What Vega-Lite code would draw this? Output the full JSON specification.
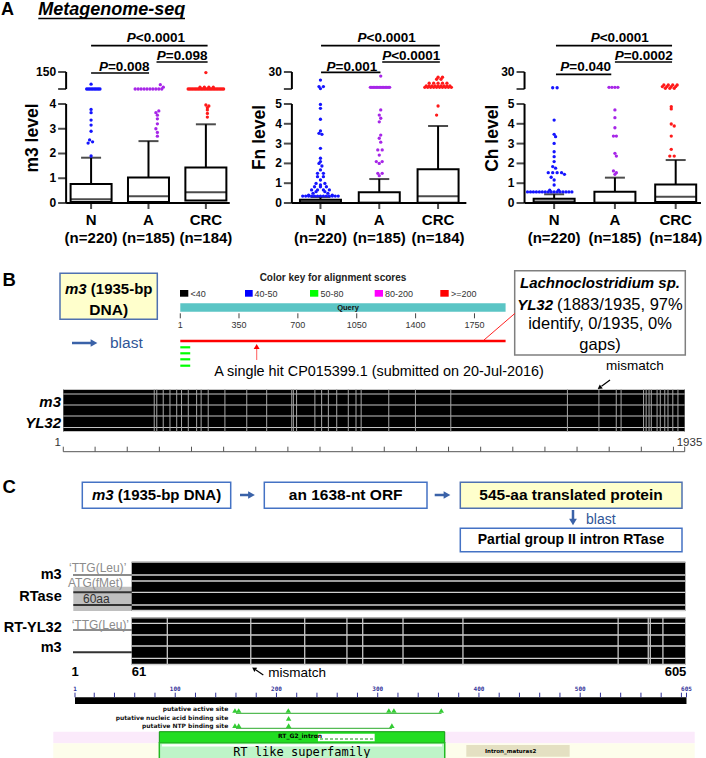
{
"$schema":"https://vega.github.io/schema/vega-lite/v6.json",
"padding":0,
"width":706,
"height":758,
"config":{"view":{"stroke":null},"font":"Liberation Sans","text":{"font":"Liberation Sans"}},
"resolve":{"scale":{"x":"independent","y":"independent","color":"independent"}},
"layer":[
  {"encoding":{"x":{"field":"x","type":"quantitative","scale":{"domain":[0,706],"nice":false,"zero":false},"axis":null},
               "y":{"field":"y","type":"quantitative","scale":{"domain":[0,758],"reverse":true,"nice":false,"zero":false},"axis":null}},
   "layer":[
    {"data":{"name":"t_A"},"mark":{"type":"text","align":"left","baseline":"middle","fontSize":18,"fontWeight":"bold","color":"black"},"encoding":{"text":{"field":"t"}}},
    {"data":{"name":"t_meta"},"mark":{"type":"text","align":"left","baseline":"middle","fontSize":18,"fontWeight":"bold","fontStyle":"italic","color":"black"},"encoding":{"text":{"field":"t"}}},
    {"data":{"name":"t_ul"},"mark":{"type":"rule","strokeWidth":1.5,"color":"black"},"encoding":{"x2":{"field":"x2"}}},
    {"data":{"name":"c_pink"},"mark":{"type":"rect","fill":"#FBEAFB"},"encoding":{"x2":{"field":"x2"},"y2":{"field":"y2"}}},
    {"data":{"name":"c_cream"},"mark":{"type":"rect","fill":"#FDFDEB"},"encoding":{"x2":{"field":"x2"},"y2":{"field":"y2"}}},
    {"data":{"name":"c_ybox"},"mark":{"type":"rect","fill":"#FFFFCC","stroke":"#4F71B0","strokeWidth":1.5},"encoding":{"x2":{"field":"x2"},"y2":{"field":"y2"}}},
    {"data":{"name":"c_wbox"},"mark":{"type":"rect","fill":"white","stroke":"#4472C4","strokeWidth":1.5},"encoding":{"x2":{"field":"x2"},"y2":{"field":"y2"}}},
    {"data":{"name":"c_gbox"},"mark":{"type":"rect","fill":"white","stroke":"#7F7F7F","strokeWidth":1.5},"encoding":{"x2":{"field":"x2"},"y2":{"field":"y2"}}},
    {"data":{"name":"c_grect"},"mark":{"type":"rect","fill":"#BFBFBF"},"encoding":{"x2":{"field":"x2"},"y2":{"field":"y2"}}},
    {"data":{"name":"c_gl"},"mark":{"type":"rule","strokeWidth":2,"color":"#8C8C8C"},"encoding":{"x2":{"field":"x2"}}},
    {"data":{"name":"c_dl"},"mark":{"type":"rule","strokeWidth":2,"color":"#333333"},"encoding":{"x2":{"field":"x2"}}},
    {"data":{"name":"c_panel"},"mark":{"type":"text","align":"left","baseline":"middle","fontSize":18.5,"fontWeight":"bold","color":"black"},"encoding":{"text":{"field":"t"}}},
    {"data":{"name":"c_b15c"},"mark":{"type":"text","align":"center","baseline":"middle","fontSize":15.5,"fontWeight":"bold","color":"black"},"encoding":{"text":{"field":"t"}}},
    {"data":{"name":"c_b14c"},"mark":{"type":"text","align":"center","baseline":"middle","fontSize":14,"fontWeight":"bold","color":"black"},"encoding":{"text":{"field":"t"}}},
    {"data":{"name":"c_bi15l"},"mark":{"type":"text","align":"left","baseline":"middle","fontSize":15,"fontWeight":"bold","fontStyle":"italic","color":"black"},"encoding":{"text":{"field":"t"}}},
    {"data":{"name":"c_b15l"},"mark":{"type":"text","align":"left","baseline":"middle","fontSize":15,"fontWeight":"bold","color":"black"},"encoding":{"text":{"field":"t"}}},
    {"data":{"name":"c_blast1"},"mark":{"type":"text","align":"left","baseline":"middle","fontSize":15.5,"color":"#2F5597"},"encoding":{"text":{"field":"t"}}},
    {"data":{"name":"c_blast2"},"mark":{"type":"text","align":"left","baseline":"middle","fontSize":14,"color":"#2F5597"},"encoding":{"text":{"field":"t"}}},
    {"data":{"name":"c_arr"},"mark":{"type":"rule","strokeWidth":2.5,"color":"#3A62A8"},"encoding":{"x2":{"field":"x2"},"y2":{"field":"y2"}}},
    {"data":{"name":"c_arrR"},"mark":{"type":"point","shape":"triangle-right","filled":true,"size":60,"color":"#3A62A8","opacity":1},"encoding":{}},
    {"data":{"name":"c_arrD"},"mark":{"type":"point","shape":"triangle-down","filled":true,"size":60,"color":"#3A62A8","opacity":1},"encoding":{}},
    {"data":{"name":"c_keyt"},"mark":{"type":"text","align":"center","baseline":"middle","fontSize":10,"fontWeight":"bold","color":"#222222"},"encoding":{"text":{"field":"t"}}},
    {"data":{"name":"c_leg"},"mark":{"type":"rect"},"encoding":{"x2":{"field":"x2"},"y2":{"field":"y2"},"color":{"field":"k","type":"nominal","scale":{"domain":["<40","40-50","50-80","80-200",">=200"],"range":["#000000","#0000FF","#00FF00","#FF00FF","#FF0000"]},"legend":null}}},
    {"data":{"name":"c_legt"},"mark":{"type":"text","align":"left","baseline":"middle","fontSize":9,"color":"#333333"},"encoding":{"text":{"field":"t"}}},
    {"data":{"name":"c_hit"},"mark":{"type":"text","align":"center","baseline":"middle","fontSize":14.4,"color":"black"},"encoding":{"text":{"field":"t"}}},
    {"data":{"name":"c_redl"},"mark":{"type":"rule","strokeWidth":1,"color":"#FF2222"},"encoding":{"x2":{"field":"x2"},"y2":{"field":"y2"}}},
    {"data":{"name":"c_bi15c"},"mark":{"type":"text","align":"center","baseline":"middle","fontSize":15,"fontWeight":"bold","fontStyle":"italic","color":"black"},"encoding":{"text":{"field":"t"}}},
    {"data":{"name":"c_bi15r"},"mark":{"type":"text","align":"right","baseline":"middle","fontSize":15,"fontWeight":"bold","fontStyle":"italic","color":"black"},"encoding":{"text":{"field":"t"}}},
    {"data":{"name":"c_n16l"},"mark":{"type":"text","align":"left","baseline":"middle","fontSize":16.5,"color":"black"},"encoding":{"text":{"field":"t"}}},
    {"data":{"name":"c_n16c"},"mark":{"type":"text","align":"center","baseline":"middle","fontSize":16.5,"color":"black"},"encoding":{"text":{"field":"t"}}},
    {"data":{"name":"c_mm"},"mark":{"type":"text","align":"left","baseline":"middle","fontSize":13.5,"color":"black"},"encoding":{"text":{"field":"t"}}},
    {"data":{"name":"c_mml"},"mark":{"type":"rule","strokeWidth":1.2,"color":"black"},"encoding":{"x2":{"field":"x2"},"y2":{"field":"y2"}}},
    {"data":{"name":"c_mmh1"},"mark":{"type":"point","shape":"triangle-up","filled":true,"size":25,"angle":234,"color":"black","opacity":1},"encoding":{}},
    {"data":{"name":"c_mmh2"},"mark":{"type":"point","shape":"triangle-up","filled":true,"size":25,"angle":304,"color":"black","opacity":1},"encoding":{}},
    {"data":{"name":"c_rul"},"mark":{"type":"text","align":"center","baseline":"middle","fontSize":11.5,"color":"#333333"},"encoding":{"text":{"field":"t"}}},
    {"data":{"name":"c_b145r"},"mark":{"type":"text","align":"right","baseline":"middle","fontSize":14.5,"fontWeight":"bold","color":"black"},"encoding":{"text":{"field":"t"}}},
    {"data":{"name":"c_g12l"},"mark":{"type":"text","align":"left","baseline":"middle","fontSize":12,"color":"#8C8C8C"},"encoding":{"text":{"field":"t"}}},
    {"data":{"name":"c_60"},"mark":{"type":"text","align":"left","baseline":"middle","fontSize":12,"color":"#333333"},"encoding":{"text":{"field":"t"}}},
    {"data":{"name":"c_num"},"mark":{"type":"text","align":"center","baseline":"middle","fontSize":13,"fontWeight":"bold","color":"black"},"encoding":{"text":{"field":"t"}}},
    {"data":{"name":"c_site"},"mark":{"type":"text","align":"right","baseline":"middle","fontSize":6,"fontWeight":"bold","font":"DejaVu Sans","color":"#111111"},"encoding":{"text":{"field":"t"}}}
   ]},
  {"encoding":{"x":{"field":"x","type":"quantitative","scale":{"domain":[-1070.9,3126.5],"nice":false,"zero":false},"axis":null},
               "y":{"field":"y","type":"quantitative","scale":{"domain":[0,758],"reverse":true,"nice":false,"zero":false},"axis":null}},
   "layer":[
    {"data":{"name":"b_teal"},"mark":{"type":"rect","fill":"#5BC5C5"},"encoding":{"x2":{"field":"x2"},"y2":{"field":"y2"}}},
    {"data":{"name":"b_query"},"mark":{"type":"text","align":"center","baseline":"middle","fontSize":7.5,"fontWeight":"bold","color":"#111111"},"encoding":{"text":{"field":"t"}}},
    {"data":{"name":"b_tick"},"mark":{"type":"rule","strokeWidth":1,"color":"#444444"},"encoding":{"y2":{"field":"y2"}}},
    {"data":{"name":"b_tlab"},"mark":{"type":"text","align":"center","baseline":"middle","fontSize":9,"color":"#333333"},"encoding":{"text":{"field":"t"}}},
    {"data":{"name":"b_red"},"mark":{"type":"rule","strokeWidth":2.5,"color":"#FF0000"},"encoding":{"x2":{"field":"x2"}}},
    {"data":{"name":"b_green"},"mark":{"type":"rule","strokeWidth":2.2,"color":"#00FF00"},"encoding":{"x2":{"field":"x2"}}},
    {"data":{"name":"b_arr"},"mark":{"type":"rule","strokeWidth":1.2,"color":"#FF7777"},"encoding":{"y2":{"field":"y2"}}},
    {"data":{"name":"b_arrh"},"mark":{"type":"point","shape":"triangle-up","filled":true,"size":35,"color":"#FF0000","opacity":1},"encoding":{}}
   ]},
  {"encoding":{"x":{"field":"x","type":"quantitative","scale":{"domain":[-196.0,2001.3],"nice":false,"zero":false},"axis":null},
               "y":{"field":"y","type":"quantitative","scale":{"domain":[0,758],"reverse":true,"nice":false,"zero":false},"axis":null}},
   "layer":[
    {"data":{"name":"a_blk"},"mark":{"type":"rect","fill":"black"},"encoding":{"x2":{"field":"x2"},"y2":{"field":"y2"}}},
    {"data":{"name":"a_h"},"mark":{"type":"rule","strokeWidth":1.2,"color":"#C4C4C4"},"encoding":{"x2":{"field":"x2"}}},
    {"data":{"name":"a_v"},"mark":{"type":"rule","strokeWidth":1,"color":"#A8A8A8"},"encoding":{"y2":{"field":"y2"}}},
    {"data":{"name":"a_rule"},"mark":{"type":"rule","strokeWidth":1,"color":"#555555"},"encoding":{"x2":{"field":"x2"}}},
    {"data":{"name":"a_ticks"},"mark":{"type":"rule","strokeWidth":1,"color":"#555555"},"encoding":{"y2":{"field":"y2"}}}
   ]},
  {"encoding":{"x":{"field":"x","type":"quantitative","scale":{"domain":[-68.42,625.34],"nice":false,"zero":false},"axis":null},
               "y":{"field":"y","type":"quantitative","scale":{"domain":[0,758],"reverse":true,"nice":false,"zero":false},"axis":null}},
   "layer":[
    {"data":{"name":"r_blk"},"mark":{"type":"rect","fill":"black"},"encoding":{"x2":{"field":"x2"},"y2":{"field":"y2"}}},
    {"data":{"name":"r_h"},"mark":{"type":"rule","strokeWidth":1.3,"color":"#D0D0D0"},"encoding":{"x2":{"field":"x2"}}},
    {"data":{"name":"r_v"},"mark":{"type":"rule","strokeWidth":1.3,"color":"#C8C8C8"},"encoding":{"y2":{"field":"y2"}}}
   ]},
  {"encoding":{"x":{"field":"x","type":"quantitative","scale":{"domain":[-73.08,624.27],"nice":false,"zero":false},"axis":null},
               "y":{"field":"y","type":"quantitative","scale":{"domain":[0,758],"reverse":true,"nice":false,"zero":false},"axis":null}},
   "layer":[
    {"data":{"name":"d_bar"},"mark":{"type":"rect","fill":"black"},"encoding":{"x2":{"field":"x2"},"y2":{"field":"y2"}}},
    {"data":{"name":"d_tick"},"mark":{"type":"rule","strokeWidth":1,"color":"#333399"},"encoding":{"y2":{"field":"y2"}}},
    {"data":{"name":"d_lab"},"mark":{"type":"text","align":"center","baseline":"middle","fontSize":6,"fontWeight":"bold","font":"DejaVu Sans Mono","color":"#333399"},"encoding":{"text":{"field":"t"}}},
    {"data":{"name":"d_line"},"mark":{"type":"rule","strokeWidth":1.2,"color":"#55BB55"},"encoding":{"x2":{"field":"x2"}}},
    {"data":{"name":"d_tri"},"mark":{"type":"point","shape":"triangle-up","filled":true,"size":30,"color":"#33CC33","opacity":1},"encoding":{}},
    {"data":{"name":"d_g2"},"mark":{"type":"rect","fill":"#22DD22","stroke":"#119911","strokeWidth":1},"encoding":{"x2":{"field":"x2"},"y2":{"field":"y2"}}},
    {"data":{"name":"d_g2w"},"mark":{"type":"rect","fill":"white"},"encoding":{"x2":{"field":"x2"},"y2":{"field":"y2"}}},
    {"data":{"name":"d_g2d"},"mark":{"type":"rule","strokeWidth":1,"color":"#119911","strokeDash":[3,2]},"encoding":{"x2":{"field":"x2"}}},
    {"data":{"name":"d_g2t"},"mark":{"type":"text","align":"center","baseline":"middle","fontSize":6,"fontWeight":"bold","font":"DejaVu Sans","color":"black"},"encoding":{"text":{"field":"t"}}},
    {"data":{"name":"d_rt"},"mark":{"type":"rect","fill":"#BEF5C8","stroke":"#22BB22","strokeWidth":1.5},"encoding":{"x2":{"field":"x2"},"y2":{"field":"y2"}}},
    {"data":{"name":"d_rtw"},"mark":{"type":"rect","fill":"white"},"encoding":{"x2":{"field":"x2"},"y2":{"field":"y2"}}},
    {"data":{"name":"d_rtt"},"mark":{"type":"text","align":"center","baseline":"middle","fontSize":12,"font":"DejaVu Sans Mono","color":"black"},"encoding":{"text":{"field":"t"}}},
    {"data":{"name":"d_im"},"mark":{"type":"rect","fill":"#E4E0C2"},"encoding":{"x2":{"field":"x2"},"y2":{"field":"y2"}}},
    {"data":{"name":"d_imt"},"mark":{"type":"text","align":"left","baseline":"middle","fontSize":5.5,"fontWeight":"bold","font":"DejaVu Sans","color":"black"},"encoding":{"text":{"field":"t"}}}
   ]},
  {"layer":[
    {"data":{"name":"box1"},"mark":{"type":"rule","strokeWidth":2,"color":"black"},
     "encoding":{"x":{"field":"p","type":"quantitative","scale":{"domain":[-0.4999,11.6265],"nice":false,"zero":false},"axis":null},
                 "y":{"field":"q3","type":"quantitative","scale":{"domain":[-22.4242,8.202],"nice":false,"zero":false},"axis":null},"y2":{"field":"hi"}}},
    {"data":{"name":"box1"},"mark":{"type":"tick","orient":"horizontal","size":20,"thickness":2,"color":"black"},
     "encoding":{"x":{"field":"p","type":"quantitative","scale":{"domain":[-0.4999,11.6265],"nice":false,"zero":false},"axis":null},
                 "y":{"field":"hi","type":"quantitative","scale":{"domain":[-22.4242,8.202],"nice":false,"zero":false},"axis":null}}},
    {"data":{"name":"box1"},"mark":{"type":"bar","orient":"vertical","width":41,"fill":"white","stroke":"black","strokeWidth":2},
     "encoding":{"x":{"field":"p","type":"quantitative","scale":{"domain":[-0.4999,11.6265],"nice":false,"zero":false},"axis":null},
                 "y":{"field":"q1","type":"quantitative","scale":{"domain":[-22.4242,8.202],"nice":false,"zero":false},"axis":null},"y2":{"field":"q3"}}},
    {"data":{"name":"box1"},"mark":{"type":"tick","orient":"horizontal","size":41,"thickness":2,"color":"black"},
     "encoding":{"x":{"field":"p","type":"quantitative","scale":{"domain":[-0.4999,11.6265],"nice":false,"zero":false},"axis":null},
                 "y":{"field":"med","type":"quantitative","scale":{"domain":[-22.4242,8.202],"nice":false,"zero":false},"axis":null}}},
    {"data":{"name":"dots1"},"mark":{"type":"point","filled":true,"size":11,"opacity":1},
     "encoding":{"x":{"field":"x","type":"quantitative","scale":{"domain":[-0.4999,11.6265],"nice":false,"zero":false},"axis":null},
                 "y":{"field":"v","type":"quantitative","scale":{"domain":[-22.4242,8.202],"nice":false,"zero":false},"axis":null},
                 "color":{"field":"g","type":"nominal","scale":{"domain":["N","A","CRC"],"range":["#1515FF","#A726E8","#FF1A1A"]},"legend":null}}},
    {"data":{"name":"ax1"},"mark":{"type":"rule","strokeWidth":2,"color":"black"},
     "encoding":{"x":{"datum":0.565,"type":"quantitative","scale":{"domain":[-0.4999,11.6265],"nice":false,"zero":false},"axis":null},
                 "y":{"field":"a","type":"quantitative","scale":{"domain":[-22.4242,8.202],"nice":false,"zero":false},"axis":null},"y2":{"field":"b"}}},
    {"data":{"name":"xax1"},"mark":{"type":"rule","strokeWidth":2,"color":"black"},
     "encoding":{"x":{"field":"a","type":"quantitative","scale":{"domain":[-0.4999,11.6265],"nice":false,"zero":false},"axis":null},"x2":{"field":"b"},
                 "y":{"datum":0,"type":"quantitative","scale":{"domain":[-22.4242,8.202],"nice":false,"zero":false},"axis":null}}},
    {"data":{"name":"yt1"},"mark":{"type":"tick","orient":"horizontal","size":8,"thickness":2,"color":"black","xOffset":-4},
     "encoding":{"x":{"datum":0.565,"type":"quantitative","scale":{"domain":[-0.4999,11.6265],"nice":false,"zero":false},"axis":null},
                 "y":{"field":"v","type":"quantitative","scale":{"domain":[-22.4242,8.202],"nice":false,"zero":false},"axis":null}}},
    {"data":{"name":"yt1"},"mark":{"type":"text","align":"right","baseline":"middle","fontSize":12,"fontWeight":"bold","color":"black","dx":-10},
     "encoding":{"x":{"datum":0.565,"type":"quantitative","scale":{"domain":[-0.4999,11.6265],"nice":false,"zero":false},"axis":null},
                 "y":{"field":"v","type":"quantitative","scale":{"domain":[-22.4242,8.202],"nice":false,"zero":false},"axis":null},"text":{"field":"t"}}},
    {"data":{"name":"ttl1"},"mark":{"type":"text","align":"center","baseline":"middle","fontSize":17.5,"fontWeight":"bold","color":"black","angle":270},
     "encoding":{"x":{"field":"x","type":"quantitative","scale":{"domain":[-0.4999,11.6265],"nice":false,"zero":false},"axis":null},
                 "y":{"field":"v","type":"quantitative","scale":{"domain":[-22.4242,8.202],"nice":false,"zero":false},"axis":null},"text":{"field":"t"}}},
    {"data":{"name":"xl"},"mark":{"type":"tick","orient":"vertical","size":6,"thickness":2,"color":"black","yOffset":3},
     "encoding":{"x":{"field":"p","type":"quantitative","scale":{"domain":[-0.4999,11.6265],"nice":false,"zero":false},"axis":null},
                 "y":{"datum":0,"type":"quantitative","scale":{"domain":[-22.4242,8.202],"nice":false,"zero":false},"axis":null}}},
    {"data":{"name":"xl"},"mark":{"type":"text","align":"center","baseline":"top","fontSize":15,"fontWeight":"bold","color":"black","lineBreak":"\n","lineHeight":18,"dy":10},
     "encoding":{"x":{"field":"p","type":"quantitative","scale":{"domain":[-0.4999,11.6265],"nice":false,"zero":false},"axis":null},
                 "y":{"datum":0,"type":"quantitative","scale":{"domain":[-22.4242,8.202],"nice":false,"zero":false},"axis":null},"text":{"field":"t"}}},
    {"data":{"name":"br1"},"mark":{"type":"rule","strokeWidth":1.7,"color":"black"},
     "encoding":{"x":{"field":"xa","type":"quantitative","scale":{"domain":[-0.4999,11.6265],"nice":false,"zero":false},"axis":null},"x2":{"field":"xb"},
                 "y":{"field":"y","type":"quantitative","scale":{"domain":[-22.4242,8.202],"nice":false,"zero":false},"axis":null}}},
    {"data":{"name":"br1"},"mark":{"type":"text","align":"right","baseline":"middle","fontSize":13.5,"fontWeight":"bold","fontStyle":"italic","color":"black"},
     "encoding":{"x":{"field":"xs","type":"quantitative","scale":{"domain":[-0.4999,11.6265],"nice":false,"zero":false},"axis":null},
                 "y":{"field":"ty","type":"quantitative","scale":{"domain":[-22.4242,8.202],"nice":false,"zero":false},"axis":null},"text":{"value":"P"}}},
    {"data":{"name":"br1"},"mark":{"type":"text","align":"left","baseline":"middle","fontSize":13.5,"fontWeight":"bold","color":"black"},
     "encoding":{"x":{"field":"xs","type":"quantitative","scale":{"domain":[-0.4999,11.6265],"nice":false,"zero":false},"axis":null},
                 "y":{"field":"ty","type":"quantitative","scale":{"domain":[-22.4242,8.202],"nice":false,"zero":false},"axis":null},"text":{"field":"rest"}}}
  ]},
  {"layer":[
    {"data":{"name":"box2"},"mark":{"type":"rule","strokeWidth":2,"color":"black"},
     "encoding":{"x":{"field":"p","type":"quantitative","scale":{"domain":[-4.3645,7.4712],"nice":false,"zero":false},"axis":null},
                 "y":{"field":"q3","type":"quantitative","scale":{"domain":[-28.0303,10.2525],"nice":false,"zero":false},"axis":null},"y2":{"field":"hi"}}},
    {"data":{"name":"box2"},"mark":{"type":"tick","orient":"horizontal","size":20,"thickness":2,"color":"black"},
     "encoding":{"x":{"field":"p","type":"quantitative","scale":{"domain":[-4.3645,7.4712],"nice":false,"zero":false},"axis":null},
                 "y":{"field":"hi","type":"quantitative","scale":{"domain":[-28.0303,10.2525],"nice":false,"zero":false},"axis":null}}},
    {"data":{"name":"box2"},"mark":{"type":"bar","orient":"vertical","width":41,"fill":"white","stroke":"black","strokeWidth":2},
     "encoding":{"x":{"field":"p","type":"quantitative","scale":{"domain":[-4.3645,7.4712],"nice":false,"zero":false},"axis":null},
                 "y":{"field":"q1","type":"quantitative","scale":{"domain":[-28.0303,10.2525],"nice":false,"zero":false},"axis":null},"y2":{"field":"q3"}}},
    {"data":{"name":"box2"},"mark":{"type":"tick","orient":"horizontal","size":41,"thickness":2,"color":"black"},
     "encoding":{"x":{"field":"p","type":"quantitative","scale":{"domain":[-4.3645,7.4712],"nice":false,"zero":false},"axis":null},
                 "y":{"field":"med","type":"quantitative","scale":{"domain":[-28.0303,10.2525],"nice":false,"zero":false},"axis":null}}},
    {"data":{"name":"dots2"},"mark":{"type":"point","filled":true,"size":11,"opacity":1},
     "encoding":{"x":{"field":"x","type":"quantitative","scale":{"domain":[-4.3645,7.4712],"nice":false,"zero":false},"axis":null},
                 "y":{"field":"v","type":"quantitative","scale":{"domain":[-28.0303,10.2525],"nice":false,"zero":false},"axis":null},
                 "color":{"field":"g","type":"nominal","scale":{"domain":["N","A","CRC"],"range":["#1515FF","#A726E8","#FF1A1A"]},"legend":null}}},
    {"data":{"name":"ax2"},"mark":{"type":"rule","strokeWidth":2,"color":"black"},
     "encoding":{"x":{"datum":0.514,"type":"quantitative","scale":{"domain":[-4.3645,7.4712],"nice":false,"zero":false},"axis":null},
                 "y":{"field":"a","type":"quantitative","scale":{"domain":[-28.0303,10.2525],"nice":false,"zero":false},"axis":null},"y2":{"field":"b"}}},
    {"data":{"name":"xax2"},"mark":{"type":"rule","strokeWidth":2,"color":"black"},
     "encoding":{"x":{"field":"a","type":"quantitative","scale":{"domain":[-4.3645,7.4712],"nice":false,"zero":false},"axis":null},"x2":{"field":"b"},
                 "y":{"datum":0,"type":"quantitative","scale":{"domain":[-28.0303,10.2525],"nice":false,"zero":false},"axis":null}}},
    {"data":{"name":"yt2"},"mark":{"type":"tick","orient":"horizontal","size":8,"thickness":2,"color":"black","xOffset":-4},
     "encoding":{"x":{"datum":0.514,"type":"quantitative","scale":{"domain":[-4.3645,7.4712],"nice":false,"zero":false},"axis":null},
                 "y":{"field":"v","type":"quantitative","scale":{"domain":[-28.0303,10.2525],"nice":false,"zero":false},"axis":null}}},
    {"data":{"name":"yt2"},"mark":{"type":"text","align":"right","baseline":"middle","fontSize":12,"fontWeight":"bold","color":"black","dx":-10},
     "encoding":{"x":{"datum":0.514,"type":"quantitative","scale":{"domain":[-4.3645,7.4712],"nice":false,"zero":false},"axis":null},
                 "y":{"field":"v","type":"quantitative","scale":{"domain":[-28.0303,10.2525],"nice":false,"zero":false},"axis":null},"text":{"field":"t"}}},
    {"data":{"name":"ttl2"},"mark":{"type":"text","align":"center","baseline":"middle","fontSize":17.5,"fontWeight":"bold","color":"black","angle":270},
     "encoding":{"x":{"field":"x","type":"quantitative","scale":{"domain":[-4.3645,7.4712],"nice":false,"zero":false},"axis":null},
                 "y":{"field":"v","type":"quantitative","scale":{"domain":[-28.0303,10.2525],"nice":false,"zero":false},"axis":null},"text":{"field":"t"}}},
    {"data":{"name":"xl"},"mark":{"type":"tick","orient":"vertical","size":6,"thickness":2,"color":"black","yOffset":3},
     "encoding":{"x":{"field":"p","type":"quantitative","scale":{"domain":[-4.3645,7.4712],"nice":false,"zero":false},"axis":null},
                 "y":{"datum":0,"type":"quantitative","scale":{"domain":[-28.0303,10.2525],"nice":false,"zero":false},"axis":null}}},
    {"data":{"name":"xl"},"mark":{"type":"text","align":"center","baseline":"top","fontSize":15,"fontWeight":"bold","color":"black","lineBreak":"\n","lineHeight":18,"dy":10},
     "encoding":{"x":{"field":"p","type":"quantitative","scale":{"domain":[-4.3645,7.4712],"nice":false,"zero":false},"axis":null},
                 "y":{"datum":0,"type":"quantitative","scale":{"domain":[-28.0303,10.2525],"nice":false,"zero":false},"axis":null},"text":{"field":"t"}}},
    {"data":{"name":"br2"},"mark":{"type":"rule","strokeWidth":1.7,"color":"black"},
     "encoding":{"x":{"field":"xa","type":"quantitative","scale":{"domain":[-4.3645,7.4712],"nice":false,"zero":false},"axis":null},"x2":{"field":"xb"},
                 "y":{"field":"y","type":"quantitative","scale":{"domain":[-28.0303,10.2525],"nice":false,"zero":false},"axis":null}}},
    {"data":{"name":"br2"},"mark":{"type":"text","align":"right","baseline":"middle","fontSize":13.5,"fontWeight":"bold","fontStyle":"italic","color":"black"},
     "encoding":{"x":{"field":"xs","type":"quantitative","scale":{"domain":[-4.3645,7.4712],"nice":false,"zero":false},"axis":null},
                 "y":{"field":"ty","type":"quantitative","scale":{"domain":[-28.0303,10.2525],"nice":false,"zero":false},"axis":null},"text":{"value":"P"}}},
    {"data":{"name":"br2"},"mark":{"type":"text","align":"left","baseline":"middle","fontSize":13.5,"fontWeight":"bold","color":"black"},
     "encoding":{"x":{"field":"xs","type":"quantitative","scale":{"domain":[-4.3645,7.4712],"nice":false,"zero":false},"axis":null},
                 "y":{"field":"ty","type":"quantitative","scale":{"domain":[-28.0303,10.2525],"nice":false,"zero":false},"axis":null},"text":{"field":"rest"}}}
  ]},
  {"layer":[
    {"data":{"name":"box3"},"mark":{"type":"rule","strokeWidth":2,"color":"black"},
     "encoding":{"x":{"field":"p","type":"quantitative","scale":{"domain":[-8.0353,3.4164],"nice":false,"zero":false},"axis":null},
                 "y":{"field":"q3","type":"quantitative","scale":{"domain":[-28.0303,10.2525],"nice":false,"zero":false},"axis":null},"y2":{"field":"hi"}}},
    {"data":{"name":"box3"},"mark":{"type":"tick","orient":"horizontal","size":20,"thickness":2,"color":"black"},
     "encoding":{"x":{"field":"p","type":"quantitative","scale":{"domain":[-8.0353,3.4164],"nice":false,"zero":false},"axis":null},
                 "y":{"field":"hi","type":"quantitative","scale":{"domain":[-28.0303,10.2525],"nice":false,"zero":false},"axis":null}}},
    {"data":{"name":"box3"},"mark":{"type":"bar","orient":"vertical","width":41,"fill":"white","stroke":"black","strokeWidth":2},
     "encoding":{"x":{"field":"p","type":"quantitative","scale":{"domain":[-8.0353,3.4164],"nice":false,"zero":false},"axis":null},
                 "y":{"field":"q1","type":"quantitative","scale":{"domain":[-28.0303,10.2525],"nice":false,"zero":false},"axis":null},"y2":{"field":"q3"}}},
    {"data":{"name":"box3"},"mark":{"type":"tick","orient":"horizontal","size":41,"thickness":2,"color":"black"},
     "encoding":{"x":{"field":"p","type":"quantitative","scale":{"domain":[-8.0353,3.4164],"nice":false,"zero":false},"axis":null},
                 "y":{"field":"med","type":"quantitative","scale":{"domain":[-28.0303,10.2525],"nice":false,"zero":false},"axis":null}}},
    {"data":{"name":"dots3"},"mark":{"type":"point","filled":true,"size":11,"opacity":1},
     "encoding":{"x":{"field":"x","type":"quantitative","scale":{"domain":[-8.0353,3.4164],"nice":false,"zero":false},"axis":null},
                 "y":{"field":"v","type":"quantitative","scale":{"domain":[-28.0303,10.2525],"nice":false,"zero":false},"axis":null},
                 "color":{"field":"g","type":"nominal","scale":{"domain":["N","A","CRC"],"range":["#1515FF","#A726E8","#FF1A1A"]},"legend":null}}},
    {"data":{"name":"ax2"},"mark":{"type":"rule","strokeWidth":2,"color":"black"},
     "encoding":{"x":{"datum":0.513,"type":"quantitative","scale":{"domain":[-8.0353,3.4164],"nice":false,"zero":false},"axis":null},
                 "y":{"field":"a","type":"quantitative","scale":{"domain":[-28.0303,10.2525],"nice":false,"zero":false},"axis":null},"y2":{"field":"b"}}},
    {"data":{"name":"xax3"},"mark":{"type":"rule","strokeWidth":2,"color":"black"},
     "encoding":{"x":{"field":"a","type":"quantitative","scale":{"domain":[-8.0353,3.4164],"nice":false,"zero":false},"axis":null},"x2":{"field":"b"},
                 "y":{"datum":0,"type":"quantitative","scale":{"domain":[-28.0303,10.2525],"nice":false,"zero":false},"axis":null}}},
    {"data":{"name":"yt2"},"mark":{"type":"tick","orient":"horizontal","size":8,"thickness":2,"color":"black","xOffset":-4},
     "encoding":{"x":{"datum":0.513,"type":"quantitative","scale":{"domain":[-8.0353,3.4164],"nice":false,"zero":false},"axis":null},
                 "y":{"field":"v","type":"quantitative","scale":{"domain":[-28.0303,10.2525],"nice":false,"zero":false},"axis":null}}},
    {"data":{"name":"yt2"},"mark":{"type":"text","align":"right","baseline":"middle","fontSize":12,"fontWeight":"bold","color":"black","dx":-10},
     "encoding":{"x":{"datum":0.513,"type":"quantitative","scale":{"domain":[-8.0353,3.4164],"nice":false,"zero":false},"axis":null},
                 "y":{"field":"v","type":"quantitative","scale":{"domain":[-28.0303,10.2525],"nice":false,"zero":false},"axis":null},"text":{"field":"t"}}},
    {"data":{"name":"ttl3"},"mark":{"type":"text","align":"center","baseline":"middle","fontSize":17.5,"fontWeight":"bold","color":"black","angle":270},
     "encoding":{"x":{"field":"x","type":"quantitative","scale":{"domain":[-8.0353,3.4164],"nice":false,"zero":false},"axis":null},
                 "y":{"field":"v","type":"quantitative","scale":{"domain":[-28.0303,10.2525],"nice":false,"zero":false},"axis":null},"text":{"field":"t"}}},
    {"data":{"name":"xl"},"mark":{"type":"tick","orient":"vertical","size":6,"thickness":2,"color":"black","yOffset":3},
     "encoding":{"x":{"field":"p","type":"quantitative","scale":{"domain":[-8.0353,3.4164],"nice":false,"zero":false},"axis":null},
                 "y":{"datum":0,"type":"quantitative","scale":{"domain":[-28.0303,10.2525],"nice":false,"zero":false},"axis":null}}},
    {"data":{"name":"xl"},"mark":{"type":"text","align":"center","baseline":"top","fontSize":15,"fontWeight":"bold","color":"black","lineBreak":"\n","lineHeight":18,"dy":10},
     "encoding":{"x":{"field":"p","type":"quantitative","scale":{"domain":[-8.0353,3.4164],"nice":false,"zero":false},"axis":null},
                 "y":{"datum":0,"type":"quantitative","scale":{"domain":[-28.0303,10.2525],"nice":false,"zero":false},"axis":null},"text":{"field":"t"}}},
    {"data":{"name":"br3"},"mark":{"type":"rule","strokeWidth":1.7,"color":"black"},
     "encoding":{"x":{"field":"xa","type":"quantitative","scale":{"domain":[-8.0353,3.4164],"nice":false,"zero":false},"axis":null},"x2":{"field":"xb"},
                 "y":{"field":"y","type":"quantitative","scale":{"domain":[-28.0303,10.2525],"nice":false,"zero":false},"axis":null}}},
    {"data":{"name":"br3"},"mark":{"type":"text","align":"right","baseline":"middle","fontSize":13.5,"fontWeight":"bold","fontStyle":"italic","color":"black"},
     "encoding":{"x":{"field":"xs","type":"quantitative","scale":{"domain":[-8.0353,3.4164],"nice":false,"zero":false},"axis":null},
                 "y":{"field":"ty","type":"quantitative","scale":{"domain":[-28.0303,10.2525],"nice":false,"zero":false},"axis":null},"text":{"value":"P"}}},
    {"data":{"name":"br3"},"mark":{"type":"text","align":"left","baseline":"middle","fontSize":13.5,"fontWeight":"bold","color":"black"},
     "encoding":{"x":{"field":"xs","type":"quantitative","scale":{"domain":[-8.0353,3.4164],"nice":false,"zero":false},"axis":null},
                 "y":{"field":"ty","type":"quantitative","scale":{"domain":[-28.0303,10.2525],"nice":false,"zero":false},"axis":null},"text":{"field":"rest"}}}
  ]}
],
"datasets":{
"t_A":[{"t":"A","x":1,"y":10.3}],
"t_meta":[{"t":"Metagenome-seq","x":38.3,"y":10}],
"t_ul":[{"x":38.3,"x2":185,"y":18.5}],
"box1":[{"p":1,"q1":0.04,"med":0.15,"q3":0.77,"hi":1.83},{"p":2,"q1":0.04,"med":0.27,"q3":1.03,"hi":2.5},{"p":3,"q1":0.1,"med":0.43,"q3":1.43,"hi":3.18}],
"box2":[{"p":1,"q1":0.01,"med":0.06,"q3":0.17,"hi":0.3},{"p":2,"q1":0.0,"med":0.02,"q3":0.54,"hi":1.21},{"p":3,"q1":0.01,"med":0.34,"q3":1.7,"hi":3.89}],
"box3":[{"p":1,"q1":0.02,"med":0.08,"q3":0.22,"hi":0.44},{"p":2,"q1":0.0,"med":0.02,"q3":0.57,"hi":1.28},{"p":3,"q1":0.05,"med":0.32,"q3":0.94,"hi":2.17}],
"ax1":[{"a":0,"b":4},{"a":4.606,"b":5.293}],
"ax2":[{"a":0,"b":5},{"a":5.758,"b":6.616}],
"xax1":[{"a":0.565,"b":3.416}],
"xax2":[{"a":0.514,"b":3.481}],
"xax3":[{"a":0.513,"b":3.416}],
"yt1":[{"v":0,"t":"0"},{"v":1,"t":"1"},{"v":2,"t":"2"},{"v":3,"t":"3"},{"v":4,"t":"4"},{"v":4.606,"t":""},{"v":5.293,"t":"150"}],
"yt2":[{"v":0,"t":"0"},{"v":1,"t":"1"},{"v":2,"t":"2"},{"v":3,"t":"3"},{"v":4,"t":"4"},{"v":5,"t":"5"},{"v":5.758,"t":""},{"v":6.616,"t":"30"}],
"ttl1":[{"t":"m3 level","x":-0.0087,"v":2.626}],
"ttl2":[{"t":"Fn level","x":-0.034,"v":3.308}],
"ttl3":[{"t":"Ch level","x":-0.013,"v":3.268}],
"xl":[{"p":1,"t":"N\n(n=220)"},{"p":2,"t":"A\n(n=185)"},{"p":3,"t":"CRC\n(n=184)"}],
"br1":[{"xa":1.0,"xb":2.01,"y":5.253,"xs":1.293,"ty":5.507,"rest":"=0.008"},{"xa":2.14,"xb":3.03,"y":5.697,"xs":2.303,"ty":5.94,"rest":"=0.098"},{"xa":1.0,"xb":3.03,"y":6.356,"xs":1.78,"ty":6.655,"rest":"<0.0001"}],
"br2":[{"xa":1.01,"xb":2.02,"y":6.6,"xs":1.257,"ty":6.884,"rest":"=0.001"},{"xa":2.05,"xb":3.03,"y":7.12,"xs":2.203,"ty":7.424,"rest":"<0.0001"},{"xa":1.01,"xb":3.03,"y":7.944,"xs":1.783,"ty":8.318,"rest":"<0.0001"}],
"br3":[{"xa":1.03,"xb":1.94,"y":6.5,"xs":1.25,"ty":6.884,"rest":"=0.040"},{"xa":2.0,"xb":2.94,"y":7.12,"xs":2.144,"ty":7.424,"rest":"=0.0002"},{"xa":1.03,"xb":2.94,"y":7.944,"xs":1.749,"ty":8.318,"rest":"<0.0001"}],
"dots1":[
{"g":"N","x":0.923,"v":4.606},{"g":"N","x":0.948,"v":4.606},{"g":"N","x":0.974,"v":4.606},{"g":"N","x":1.0,"v":4.606},{"g":"N","x":1.026,"v":4.606},{"g":"N","x":1.052,"v":4.606},{"g":"N","x":1.077,"v":4.606},{"g":"N","x":1.103,"v":4.606},{"g":"N","x":1.129,"v":4.606},{"g":"N","x":1.155,"v":4.606},
{"g":"N","x":1.0,"v":4.8},
{"g":"N","x":1.0,"v":3.78},{"g":"N","x":1.0,"v":3.65},{"g":"N","x":1.0,"v":3.35},{"g":"N","x":1.0,"v":3.15},{"g":"N","x":1.0,"v":2.9},{"g":"N","x":0.974,"v":2.55},{"g":"N","x":1.026,"v":2.47},{"g":"N","x":0.948,"v":2.42},{"g":"N","x":1.0,"v":1.9},
{"g":"A","x":1.768,"v":4.606},{"g":"A","x":1.82,"v":4.606},{"g":"A","x":1.871,"v":4.606},{"g":"A","x":1.923,"v":4.606},{"g":"A","x":1.974,"v":4.606},{"g":"A","x":2.026,"v":4.606},{"g":"A","x":2.077,"v":4.606},{"g":"A","x":2.129,"v":4.606},{"g":"A","x":2.18,"v":4.606},{"g":"A","x":2.232,"v":4.606},
{"g":"A","x":2.258,"v":4.68},{"g":"A","x":2.206,"v":4.78},
{"g":"A","x":2.18,"v":3.72},{"g":"A","x":2.129,"v":3.65},{"g":"A","x":2.155,"v":3.55},{"g":"A","x":2.155,"v":3.4},{"g":"A","x":2.155,"v":3.2},{"g":"A","x":2.129,"v":3.0},{"g":"A","x":2.155,"v":2.85},{"g":"A","x":2.155,"v":2.7},
{"g":"CRC","x":2.691,"v":4.606},{"g":"CRC","x":2.717,"v":4.606},{"g":"CRC","x":2.742,"v":4.606},{"g":"CRC","x":2.768,"v":4.606},{"g":"CRC","x":2.794,"v":4.606},{"g":"CRC","x":2.82,"v":4.606},{"g":"CRC","x":2.845,"v":4.606},{"g":"CRC","x":2.871,"v":4.606},{"g":"CRC","x":2.897,"v":4.606},{"g":"CRC","x":2.923,"v":4.606},{"g":"CRC","x":2.948,"v":4.606},{"g":"CRC","x":2.974,"v":4.606},{"g":"CRC","x":3.0,"v":4.606},{"g":"CRC","x":3.026,"v":4.606},{"g":"CRC","x":3.052,"v":4.606},{"g":"CRC","x":3.077,"v":4.606},{"g":"CRC","x":3.103,"v":4.606},{"g":"CRC","x":3.129,"v":4.606},{"g":"CRC","x":3.155,"v":4.606},{"g":"CRC","x":3.18,"v":4.606},{"g":"CRC","x":3.206,"v":4.606},{"g":"CRC","x":3.232,"v":4.606},{"g":"CRC","x":3.258,"v":4.606},{"g":"CRC","x":3.283,"v":4.606},{"g":"CRC","x":3.309,"v":4.606},
{"g":"CRC","x":2.897,"v":4.68},{"g":"CRC","x":2.974,"v":4.68},{"g":"CRC","x":3.052,"v":4.68},{"g":"CRC","x":3.129,"v":4.68},{"g":"CRC","x":3.0,"v":5.27},
{"g":"CRC","x":3.0,"v":3.96},{"g":"CRC","x":3.052,"v":3.92},{"g":"CRC","x":3.026,"v":3.85},{"g":"CRC","x":3.026,"v":3.76},{"g":"CRC","x":3.026,"v":3.62},{"g":"CRC","x":3.026,"v":3.47}
],
"dots2":[
{"g":"N","x":1.0,"v":6.21},{"g":"N","x":0.975,"v":5.88},{"g":"N","x":1.05,"v":5.88},{"g":"N","x":1.0,"v":5.78},
{"g":"N","x":1.0,"v":4.98},{"g":"N","x":1.0,"v":4.78},{"g":"N","x":1.0,"v":4.23},{"g":"N","x":1.0,"v":3.64},{"g":"N","x":0.975,"v":3.52},{"g":"N","x":1.025,"v":3.47},{"g":"N","x":1.0,"v":2.76},{"g":"N","x":1.0,"v":2.26},{"g":"N","x":1.0,"v":2.09},{"g":"N","x":0.975,"v":2.0},{"g":"N","x":1.025,"v":1.87},{"g":"N","x":1.0,"v":1.67},{"g":"N","x":0.95,"v":1.5},{"g":"N","x":1.05,"v":1.5},{"g":"N","x":0.95,"v":1.33},{"g":"N","x":1.05,"v":1.33},{"g":"N","x":1.0,"v":1.16},{"g":"N","x":0.925,"v":0.99},{"g":"N","x":1.075,"v":0.99},{"g":"N","x":1.0,"v":0.91},{"g":"N","x":0.899,"v":0.82},{"g":"N","x":1.0,"v":0.82},{"g":"N","x":1.101,"v":0.82},{"g":"N","x":0.849,"v":0.66},{"g":"N","x":0.95,"v":0.66},{"g":"N","x":1.05,"v":0.66},{"g":"N","x":1.151,"v":0.66},{"g":"N","x":0.925,"v":0.57},{"g":"N","x":1.075,"v":0.57},{"g":"N","x":0.874,"v":0.49},{"g":"N","x":1.126,"v":0.49},{"g":"N","x":0.799,"v":0.4},{"g":"N","x":1.201,"v":0.4},
{"g":"N","x":0.698,"v":0.35},{"g":"N","x":0.749,"v":0.35},{"g":"N","x":0.799,"v":0.35},{"g":"N","x":0.849,"v":0.35},{"g":"N","x":0.899,"v":0.35},{"g":"N","x":0.95,"v":0.35},{"g":"N","x":1.0,"v":0.35},{"g":"N","x":1.05,"v":0.35},{"g":"N","x":1.101,"v":0.35},{"g":"N","x":1.151,"v":0.35},{"g":"N","x":1.201,"v":0.35},{"g":"N","x":1.251,"v":0.35},{"g":"N","x":1.302,"v":0.35},
{"g":"A","x":1.849,"v":5.84},{"g":"A","x":1.874,"v":5.84},{"g":"A","x":1.899,"v":5.84},{"g":"A","x":1.925,"v":5.84},{"g":"A","x":1.95,"v":5.84},{"g":"A","x":1.975,"v":5.84},{"g":"A","x":2.0,"v":5.84},{"g":"A","x":2.025,"v":5.84},{"g":"A","x":2.05,"v":5.84},{"g":"A","x":2.075,"v":5.84},{"g":"A","x":2.101,"v":5.84},{"g":"A","x":2.126,"v":5.84},{"g":"A","x":2.151,"v":5.84},{"g":"A","x":2.176,"v":5.84},{"g":"A","x":2.025,"v":6.41},
{"g":"A","x":2.025,"v":4.7},{"g":"A","x":2.0,"v":4.44},{"g":"A","x":2.025,"v":4.28},{"g":"A","x":2.0,"v":4.1},{"g":"A","x":2.025,"v":3.43},{"g":"A","x":2.0,"v":3.27},{"g":"A","x":2.025,"v":3.07},{"g":"A","x":1.975,"v":2.68},{"g":"A","x":2.05,"v":2.68},{"g":"A","x":2.0,"v":2.42},{"g":"A","x":1.95,"v":2.09},{"g":"A","x":2.05,"v":2.09},{"g":"A","x":2.0,"v":2.0},{"g":"A","x":1.975,"v":1.5},{"g":"A","x":2.05,"v":1.5},{"g":"A","x":2.0,"v":1.38},
{"g":"CRC","x":3.0,"v":6.35},{"g":"CRC","x":3.075,"v":6.35},{"g":"CRC","x":2.975,"v":6.25},{"g":"CRC","x":3.05,"v":6.25},{"g":"CRC","x":2.849,"v":6.05},{"g":"CRC","x":2.925,"v":6.05},{"g":"CRC","x":3.0,"v":6.05},{"g":"CRC","x":3.075,"v":6.05},{"g":"CRC","x":3.151,"v":6.05},
{"g":"CRC","x":2.799,"v":5.91},{"g":"CRC","x":2.849,"v":5.91},{"g":"CRC","x":2.899,"v":5.91},{"g":"CRC","x":2.95,"v":5.91},{"g":"CRC","x":3.0,"v":5.91},{"g":"CRC","x":3.05,"v":5.91},{"g":"CRC","x":3.101,"v":5.91},{"g":"CRC","x":3.151,"v":5.91},{"g":"CRC","x":3.201,"v":5.91},
{"g":"CRC","x":2.774,"v":5.84},{"g":"CRC","x":2.824,"v":5.84},{"g":"CRC","x":2.874,"v":5.84},{"g":"CRC","x":2.925,"v":5.84},{"g":"CRC","x":2.975,"v":5.84},{"g":"CRC","x":3.025,"v":5.84},{"g":"CRC","x":3.075,"v":5.84},{"g":"CRC","x":3.126,"v":5.84},{"g":"CRC","x":3.176,"v":5.84},{"g":"CRC","x":3.226,"v":5.84},
{"g":"CRC","x":3.0,"v":4.9},{"g":"CRC","x":2.975,"v":4.44}
],
"dots3":[
{"g":"N","x":0.976,"v":5.82},{"g":"N","x":1.049,"v":5.82},
{"g":"N","x":1.0,"v":4.19},{"g":"N","x":1.0,"v":3.47},{"g":"N","x":1.024,"v":3.35},{"g":"N","x":1.0,"v":3.01},{"g":"N","x":1.0,"v":2.59},{"g":"N","x":1.0,"v":2.34},{"g":"N","x":1.0,"v":2.09},{"g":"N","x":0.976,"v":1.84},{"g":"N","x":1.024,"v":1.76},{"g":"N","x":0.903,"v":1.53},{"g":"N","x":0.976,"v":1.53},{"g":"N","x":1.049,"v":1.53},{"g":"N","x":1.122,"v":1.53},{"g":"N","x":1.17,"v":1.45},{"g":"N","x":0.951,"v":1.3},{"g":"N","x":1.0,"v":1.16},{"g":"N","x":1.0,"v":0.91},{"g":"N","x":0.927,"v":0.65},{"g":"N","x":1.073,"v":0.65},
{"g":"N","x":0.562,"v":0.56},{"g":"N","x":0.611,"v":0.56},{"g":"N","x":0.659,"v":0.56},{"g":"N","x":0.708,"v":0.56},{"g":"N","x":0.757,"v":0.56},{"g":"N","x":0.805,"v":0.56},{"g":"N","x":0.854,"v":0.56},{"g":"N","x":0.903,"v":0.56},{"g":"N","x":0.951,"v":0.56},{"g":"N","x":1.0,"v":0.56},{"g":"N","x":1.049,"v":0.56},{"g":"N","x":1.097,"v":0.56},{"g":"N","x":1.146,"v":0.56},{"g":"N","x":1.195,"v":0.56},{"g":"N","x":1.243,"v":0.56},{"g":"N","x":1.292,"v":0.56},
{"g":"A","x":1.903,"v":5.84},{"g":"A","x":1.951,"v":5.84},{"g":"A","x":2.0,"v":5.84},{"g":"A","x":2.049,"v":5.84},
{"g":"A","x":2.0,"v":4.7},{"g":"A","x":2.0,"v":4.31},{"g":"A","x":2.0,"v":3.8},{"g":"A","x":1.976,"v":3.38},{"g":"A","x":2.024,"v":3.38},{"g":"A","x":2.0,"v":2.51},{"g":"A","x":2.024,"v":2.37},{"g":"A","x":1.976,"v":1.62},{"g":"A","x":2.024,"v":1.53},{"g":"A","x":2.0,"v":1.45},
{"g":"CRC","x":2.805,"v":5.96},{"g":"CRC","x":2.878,"v":5.96},{"g":"CRC","x":2.951,"v":5.96},{"g":"CRC","x":3.024,"v":5.96},{"g":"CRC","x":2.781,"v":5.88},{"g":"CRC","x":2.854,"v":5.88},{"g":"CRC","x":2.927,"v":5.88},{"g":"CRC","x":3.0,"v":5.88},{"g":"CRC","x":2.83,"v":5.79},{"g":"CRC","x":2.903,"v":5.79},{"g":"CRC","x":2.976,"v":5.79},
{"g":"CRC","x":2.927,"v":4.86},{"g":"CRC","x":2.927,"v":4.75},{"g":"CRC","x":2.927,"v":3.99},{"g":"CRC","x":2.976,"v":3.89},{"g":"CRC","x":2.927,"v":3.38},{"g":"CRC","x":2.927,"v":2.71},{"g":"CRC","x":2.903,"v":2.37},{"g":"CRC","x":2.976,"v":2.37}
],
"c_pink":[{"x":53.3,"x2":694.7,"y":731.7,"y2":743.3}],
"c_cream":[{"x":53.3,"x2":694.7,"y":743.3,"y2":758}],
"c_ybox":[{"x":60,"x2":157.3,"y":273.3,"y2":319.3},{"x":460.3,"x2":682,"y":482.3,"y2":508.3}],
"c_wbox":[{"x":82.3,"x2":230.7,"y":482.3,"y2":508.3},{"x":264.3,"x2":427,"y":482.3,"y2":508.3},{"x":460.3,"x2":682,"y":528.3,"y2":551.7}],
"c_gbox":[{"x":514.7,"x2":685.3,"y":270.7,"y2":355}],
"c_grect":[{"x":73.3,"x2":133.3,"y":586.7,"y2":611}],
"c_gl":[{"x":73,"x2":131.7,"y":575},{"x":73,"x2":131.7,"y":630}],
"c_dl":[{"x":73.3,"x2":133.3,"y":592.3},{"x":73.3,"x2":133.3,"y":605},{"x":73,"x2":131.7,"y":652.3}],
"c_panel":[{"t":"B","x":2.5,"y":280},{"t":"C","x":2.5,"y":487}],
"c_b15c":[{"t":"DNA)","x":108.7,"y":310},{"t":"an 1638-nt ORF","x":345.7,"y":495},{"t":"545-aa translated protein","x":571,"y":495}],
"c_b14c":[{"t":"Partial group II intron RTase","x":571,"y":540}],
"c_bi15l":[{"t":"m3","x":65,"y":289.3},{"t":"m3","x":92,"y":495}],
"c_b15l":[{"t":"(1935-bp","x":90.8,"y":289.3},{"t":"(1935-bp DNA)","x":117.8,"y":495}],
"c_blast1":[{"t":"blast","x":110,"y":343}],
"c_blast2":[{"t":"blast","x":586,"y":520}],
"c_arr":[{"x":72,"x2":91,"y":343,"y2":343},{"x":240,"x2":250,"y":495,"y2":495},{"x":434.7,"x2":445,"y":495,"y2":495},{"x":573,"x2":573,"y":510,"y2":520}],
"c_arrR":[{"x":94,"y":343},{"x":251.5,"y":495},{"x":447,"y":495}],
"c_arrD":[{"x":573,"y":522}],
"c_keyt":[{"t":"Color key for alignment scores","x":333,"y":278.3}],
"c_leg":[{"k":"<40","x":180,"x2":188.3,"y":290,"y2":296.7},{"k":"40-50","x":245,"x2":252.7,"y":290,"y2":296.7},{"k":"50-80","x":310,"x2":318.3,"y":290,"y2":296.7},{"k":"80-200","x":374.7,"x2":383,"y":290,"y2":296.7},{"k":">=200","x":440.3,"x2":448.7,"y":290,"y2":296.7}],
"c_legt":[{"t":"<40","x":190.5,"y":293.5},{"t":"40-50","x":254.5,"y":293.5},{"t":"50-80","x":320.5,"y":293.5},{"t":"80-200","x":385,"y":293.5},{"t":">=200","x":451,"y":293.5}],
"c_hit":[{"t":"A single hit CP015399.1 (submitted on 20-Jul-2016)","x":379,"y":371.7}],
"c_redl":[{"x":484,"x2":515,"y":340,"y2":313.3}],
"c_bi15c":[{"t":"Lachnoclostridium sp.","x":600,"y":283.3}],
"c_bi15r":[{"t":"YL32","x":553,"y":305},{"t":"m3","x":61,"y":402},{"t":"YL32","x":61,"y":423}],
"c_n16l":[{"t":"(1883/1935, 97%","x":557,"y":305}],
"c_n16c":[{"t":"identify, 0/1935, 0%","x":600,"y":324},{"t":"gaps)","x":600,"y":345}],
"c_mm":[{"t":"mismatch","x":606,"y":366},{"t":"mismatch","x":268.3,"y":673.3}],
"c_mml":[{"x":610,"x2":601.5,"y":380,"y2":386.3},{"x":263.3,"x2":256,"y":675,"y2":670}],
"c_mmh1":[{"x":599.5,"y":387.7}],
"c_mmh2":[{"x":254,"y":668.7}],
"c_rul":[{"t":"1","x":57.7,"y":443},{"t":"1935","x":689.5,"y":443}],
"c_b145r":[{"t":"m3","x":61.7,"y":575},{"t":"RTase","x":61.7,"y":596.7},{"t":"RT-YL32","x":61.7,"y":628.3},{"t":"m3","x":61.7,"y":648.3}],
"c_g12l":[{"t":"‘TTG(Leu)’","x":69,"y":568.3},{"t":"ATG(fMet)","x":68,"y":583.3},{"t":"‘TTG(Leu)’","x":71.7,"y":625}],
"c_60":[{"t":"60aa","x":83,"y":599}],
"c_num":[{"t":"1","x":75,"y":671.7},{"t":"61","x":138.9,"y":671.7},{"t":"605","x":675.5,"y":671.7}],
"c_site":[{"t":"putative active site","x":228.3,"y":709.3},{"t":"putative nucleic acid binding site","x":228.3,"y":718.3},{"t":"putative NTP binding site","x":228.3,"y":725.7}],
"b_teal":[{"x":1,"x2":1935,"y":303.3,"y2":311.7}],
"b_query":[{"t":"Query","x":998,"y":307.5}],
"b_tick":[{"x":1,"y":313.3,"y2":318.3},{"x":350,"y":313.3,"y2":318.3},{"x":700,"y":313.3,"y2":318.3},{"x":1050,"y":313.3,"y2":318.3},{"x":1400,"y":313.3,"y2":318.3},{"x":1750,"y":313.3,"y2":318.3}],
"b_tlab":[{"t":"1","x":1,"y":325},{"t":"350","x":350,"y":325},{"t":"700","x":700,"y":325},{"t":"1050","x":1050,"y":325},{"t":"1400","x":1400,"y":325},{"t":"1750","x":1750,"y":325}],
"b_red":[{"x":1,"x2":1935,"y":341}],
"b_green":[{"x":1,"x2":60,"y":347.3},{"x":1,"x2":60,"y":353.3},{"x":1,"x2":60,"y":359.3},{"x":1,"x2":60,"y":365.7}],
"b_arr":[{"x":455,"y":349,"y2":360}],
"b_arrh":[{"x":455,"y":346.5}],
"a_blk":[{"x":1,"x2":1935,"y":389,"y2":432}],
"a_h":[{"x":1,"x2":1935,"y":389.5},{"x":1,"x2":1935,"y":394},{"x":1,"x2":1935,"y":405},{"x":1,"x2":1935,"y":416},{"x":1,"x2":1935,"y":427.5},{"x":1,"x2":1935,"y":431.5}],
"a_v":[{"x":284,"y":389,"y2":432},{"x":292,"y":389,"y2":432},{"x":312,"y":389,"y2":432},{"x":333,"y":389,"y2":432},{"x":354,"y":389,"y2":432},{"x":369,"y":389,"y2":432},{"x":390,"y":389,"y2":432},{"x":416,"y":389,"y2":432},{"x":430,"y":389,"y2":432},{"x":452,"y":389,"y2":432},{"x":504,"y":389,"y2":432},{"x":572,"y":389,"y2":432},{"x":634,"y":389,"y2":432},{"x":712,"y":389,"y2":432},{"x":717,"y":389,"y2":432},{"x":727,"y":389,"y2":432},{"x":784,"y":389,"y2":432},{"x":805,"y":389,"y2":432},{"x":826,"y":389,"y2":432},{"x":852,"y":389,"y2":432},{"x":888,"y":389,"y2":432},{"x":912,"y":389,"y2":432},{"x":928,"y":389,"y2":432},{"x":1014,"y":389,"y2":432},{"x":1097,"y":389,"y2":432},{"x":1207,"y":389,"y2":432},{"x":1570,"y":389,"y2":432},{"x":1668,"y":389,"y2":432},{"x":1722,"y":389,"y2":432},{"x":1737,"y":389,"y2":432},{"x":1807,"y":389,"y2":432},{"x":1815,"y":389,"y2":432},{"x":1824,"y":389,"y2":432},{"x":1831,"y":389,"y2":432},{"x":1849,"y":389,"y2":432},{"x":1859,"y":389,"y2":432},{"x":1873,"y":389,"y2":432},{"x":1883,"y":389,"y2":432},{"x":1898,"y":389,"y2":432},{"x":1914,"y":389,"y2":432}],
"a_rule":[{"x":1,"x2":1935,"y":451.7}],
"a_ticks":[{"x":1,"y":446.7,"y2":451.7},{"x":100,"y":446.7,"y2":451.7},{"x":200,"y":446.7,"y2":451.7},{"x":300,"y":446.7,"y2":451.7},{"x":400,"y":446.7,"y2":451.7},{"x":500,"y":446.7,"y2":451.7},{"x":600,"y":446.7,"y2":451.7},{"x":700,"y":446.7,"y2":451.7},{"x":800,"y":446.7,"y2":451.7},{"x":900,"y":446.7,"y2":451.7},{"x":1000,"y":446.7,"y2":451.7},{"x":1100,"y":446.7,"y2":451.7},{"x":1200,"y":446.7,"y2":451.7},{"x":1300,"y":446.7,"y2":451.7},{"x":1400,"y":446.7,"y2":451.7},{"x":1500,"y":446.7,"y2":451.7},{"x":1600,"y":446.7,"y2":451.7},{"x":1700,"y":446.7,"y2":451.7},{"x":1800,"y":446.7,"y2":451.7},{"x":1900,"y":446.7,"y2":451.7},{"x":1935,"y":446.7,"y2":451.7}],
"r_blk":[{"x":61,"x2":605,"y":561.7,"y2":611},{"x":61,"x2":605,"y":617.3,"y2":665}],
"r_h":[{"x":61,"x2":605,"y":562.2},{"x":61,"x2":605,"y":575},{"x":61,"x2":605,"y":581},{"x":61,"x2":605,"y":592.3},{"x":61,"x2":605,"y":605},{"x":61,"x2":605,"y":610.5},{"x":61,"x2":605,"y":617.8},{"x":61,"x2":605,"y":623.3},{"x":61,"x2":605,"y":635},{"x":61,"x2":605,"y":646},{"x":61,"x2":605,"y":658.3},{"x":61,"x2":605,"y":664.5}],
"r_v":[{"x":96,"y":617.3,"y2":665},{"x":178,"y":617.3,"y2":665},{"x":231,"y":617.3,"y2":665},{"x":272.5,"y":617.3,"y2":665},{"x":288,"y":617.3,"y2":665},{"x":327.6,"y":617.3,"y2":665},{"x":386.5,"y":617.3,"y2":665},{"x":539,"y":617.3,"y2":665},{"x":568.6,"y":617.3,"y2":665},{"x":570.6,"y":617.3,"y2":665},{"x":583,"y":617.3,"y2":665}],
"d_bar":[{"x":1,"x2":605,"y":697.3,"y2":704}],
"d_tick":[{"x":1,"y":692.7,"y2":697.3},{"x":20,"y":692.7,"y2":697.3},{"x":40,"y":692.7,"y2":697.3},{"x":60,"y":692.7,"y2":697.3},{"x":80,"y":692.7,"y2":697.3},{"x":100,"y":692.7,"y2":697.3},{"x":120,"y":692.7,"y2":697.3},{"x":140,"y":692.7,"y2":697.3},{"x":160,"y":692.7,"y2":697.3},{"x":180,"y":692.7,"y2":697.3},{"x":200,"y":692.7,"y2":697.3},{"x":220,"y":692.7,"y2":697.3},{"x":240,"y":692.7,"y2":697.3},{"x":260,"y":692.7,"y2":697.3},{"x":280,"y":692.7,"y2":697.3},{"x":300,"y":692.7,"y2":697.3},{"x":320,"y":692.7,"y2":697.3},{"x":340,"y":692.7,"y2":697.3},{"x":360,"y":692.7,"y2":697.3},{"x":380,"y":692.7,"y2":697.3},{"x":400,"y":692.7,"y2":697.3},{"x":420,"y":692.7,"y2":697.3},{"x":440,"y":692.7,"y2":697.3},{"x":460,"y":692.7,"y2":697.3},{"x":480,"y":692.7,"y2":697.3},{"x":500,"y":692.7,"y2":697.3},{"x":520,"y":692.7,"y2":697.3},{"x":540,"y":692.7,"y2":697.3},{"x":560,"y":692.7,"y2":697.3},{"x":580,"y":692.7,"y2":697.3},{"x":600,"y":692.7,"y2":697.3},{"x":605,"y":692.7,"y2":697.3}],
"d_lab":[{"t":"1","x":1,"y":689},{"t":"100","x":100,"y":689},{"t":"200","x":200,"y":689},{"t":"300","x":300,"y":689},{"t":"400","x":400,"y":689},{"t":"500","x":500,"y":689},{"t":"605","x":605,"y":689}],
"d_line":[{"x":160,"x2":363,"y":713.3},{"x":160,"x2":314,"y":728.3}],
"d_tri":[{"x":159,"y":710.5},{"x":162.7,"y":710.5},{"x":211.7,"y":710.5},{"x":311,"y":710.5},{"x":316,"y":710.5},{"x":362.8,"y":710.5},{"x":212,"y":718.3},{"x":159,"y":725.6},{"x":162.7,"y":725.6},{"x":212,"y":725.6},{"x":314,"y":725.6}],
"d_g2":[{"x":84.3,"x2":366.2,"y":731.7,"y2":742.7}],
"d_g2w":[{"x":241,"x2":297,"y":733.7,"y2":741.3}],
"d_g2d":[{"x":243,"x2":296,"y":739}],
"d_g2t":[{"t":"RT_G2_intron","x":223.3,"y":736.3}],
"d_rt":[{"x":84.3,"x2":366.2,"y":742.7,"y2":759}],
"d_rtw":[{"x":87,"x2":363.5,"y":744.2,"y2":746.5}],
"d_rtt":[{"t":"RT_like superfamily","x":225,"y":752}],
"d_im":[{"x":387.5,"x2":489.6,"y":745,"y2":756.7}],
"d_imt":[{"t":"Intron_maturas2","x":406,"y":751}]
}
}
